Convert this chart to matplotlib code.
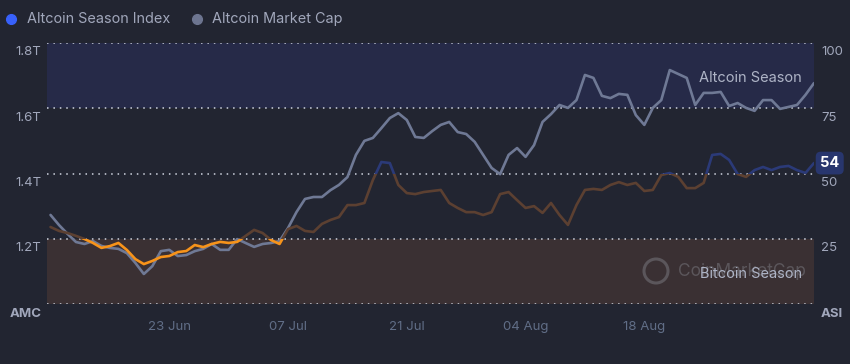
# Altcoin Season Index vs Altcoin Market Cap, dark CoinMarketCap style
import pandas as pd
import matplotlib.pyplot as plt
import matplotlib.dates as mdates
import matplotlib.transforms as mtransforms
from matplotlib.patches import Rectangle, Circle
from matplotlib.lines import Line2D

plt.rcParams['font.family'] = ['Inter', 'DejaVu Sans']

# daily data, 9 Jun -> 7 Sep
dates = pd.date_range('2024-06-09', '2024-09-07', freq='D')

# altcoin market cap, trillions USD
market_cap = [
    1.273, 1.242, 1.215, 1.190, 1.184, 1.193, 1.178, 1.172, 1.169, 1.156,
    1.126, 1.092, 1.116, 1.162, 1.166, 1.147, 1.150, 1.162, 1.169, 1.184,
    1.166, 1.166, 1.199, 1.187, 1.175, 1.184, 1.187, 1.193, 1.233, 1.282,
    1.322, 1.328, 1.328, 1.349, 1.365, 1.389, 1.457, 1.500, 1.509, 1.539,
    1.570, 1.585, 1.564, 1.512, 1.509, 1.530, 1.549, 1.558, 1.527, 1.521,
    1.497, 1.457, 1.417, 1.398, 1.457, 1.478, 1.451, 1.487, 1.558, 1.582,
    1.610, 1.601, 1.625, 1.702, 1.693, 1.638, 1.631, 1.644, 1.641, 1.579,
    1.549, 1.601, 1.625, 1.717, 1.705, 1.693, 1.610, 1.647, 1.647, 1.650,
    1.607, 1.616, 1.601, 1.592, 1.625, 1.625, 1.598, 1.604, 1.610, 1.641,
    1.677,
]

# altcoin season index, 0-100
season_index = [
    29.5, 28.0, 27.2, 26.1, 24.9, 23.4, 21.5, 22.2, 23.4, 20.7,
    17.2, 15.3, 16.5, 18.0, 18.4, 19.9, 20.3, 22.6, 21.8, 23.0,
    23.8, 23.4, 23.8, 26.1, 28.4, 27.2, 24.5, 23.0, 28.7, 29.9,
    28.0, 27.6, 30.7, 32.2, 33.3, 37.9, 37.9, 38.7, 47.5, 54.4,
    54.0, 45.6, 42.5, 42.1, 42.9, 43.3, 43.7, 38.7, 36.8, 35.2,
    35.2, 34.1, 35.2, 42.1, 42.9, 39.8, 36.8, 37.5, 34.9, 38.7,
    34.1, 30.3, 37.9, 43.7, 44.1, 43.7, 45.6, 46.7, 45.6, 46.4,
    43.3, 43.7, 49.4, 50.2, 48.7, 44.4, 44.4, 46.4, 57.1, 57.5,
    55.2, 49.8, 48.7, 51.3, 52.5, 51.3, 52.5, 52.9, 51.3, 50.2,
    54.0,
]

cap_ticks = [1.0, 1.2, 1.4, 1.6, 1.8]
cap_labels = ['AMC', '1.2T', '1.4T', '1.6T', '1.8T']
idx_ticks = [0, 25, 50, 75, 100]
idx_labels = ['ASI', '25', '50', '75', '100']
date_ticks = ['2024-06-23', '2024-07-07', '2024-07-21', '2024-08-04', '2024-08-18']

bg = '#222531'
label_col = '#a1a7bb'
date_col = '#616e87'

fig = plt.figure(figsize=(8.5, 3.64), dpi=100, facecolor=bg)
ax = fig.add_axes([0.0553, 0.1648, 0.9023, 0.7171])
ax.set_facecolor(bg)
ax2 = ax.twinx()

# season bands
ax.axhspan(1.6, 1.8, color='#262a48', zorder=0, lw=0)
ax.axhspan(1.0, 1.2, color='#3a3033', zorder=0, lw=0)

btf = mtransforms.blended_transform_factory(ax2.transAxes, ax2.transData)

# watermark (sits under the "Bitcoin Season" label like the original)
ax2.text(0.823, 12.5, 'CoinMarketCap', transform=btf,
         fontsize=12.5, color='#5b565b', va='center', ha='left', zorder=1)
logo = Circle((656, 364 - 271), 12, transform=None, fill=False, ec='#5b565b', lw=2.2, zorder=1)
fig.add_artist(logo)

for y in cap_ticks:
    ax.axhline(y, color='#d0d5e0', lw=1.1, ls=(0, (1, 3.2)), zorder=1)

ax.plot(dates, market_cap, color='#6f7995', lw=1.9, zorder=3,
        solid_capstyle='round', solid_joinstyle='round')

# index line, coloured by zone using clip rectangles
zones = [(-10, 35, '#f7931a'), (25, 25, '#5c4031'), (50, 60, '#2b3a78')]
for y0, h, col in zones:
    ln, = ax2.plot(dates, season_index, color=col, lw=1.9, zorder=4,
                   solid_capstyle='round', solid_joinstyle='round')
    ln.set_clip_path(Rectangle((0, y0), 1, h, transform=btf))

ax.set_xlim(pd.Timestamp('2024-06-08 14:00'), dates[-1])
ax.set_ylim(1.0, 1.8)
ax2.set_ylim(0, 100)

ax.set_xticks(pd.to_datetime(date_ticks))
ax.xaxis.set_major_formatter(mdates.DateFormatter('%d %b'))
ax.tick_params(axis='x', length=0, pad=12, labelsize=9.5, labelcolor=date_col)

ax.set_yticks(cap_ticks)
ax.set_yticklabels(cap_labels)
ax.tick_params(axis='y', length=0, pad=4, labelsize=9.5, labelcolor=label_col)
ax2.set_yticks(idx_ticks)
ax2.set_yticklabels(idx_labels)
ax2.tick_params(axis='y', length=0, pad=5, labelsize=9.5, labelcolor=label_col)

shift = mtransforms.ScaledTranslation(0, -8 / 100, fig.dpi_scale_trans)
for lab in ax.get_yticklabels() + ax2.get_yticklabels():
    lab.set_transform(lab.get_transform() + shift)
ax.get_yticklabels()[0].set_fontweight('bold')
ax2.get_yticklabels()[0].set_fontweight('bold')

for a in (ax, ax2):
    for s in a.spines.values():
        s.set_visible(False)

# zone labels
ax2.text(0.984, 86.6, 'Altcoin Season', transform=btf, ha='right', va='center',
         fontsize=10.5, color='#aeb4c6', zorder=5)
ax2.text(0.985, 11.5, 'Bitcoin Season', transform=btf, ha='right', va='center',
         fontsize=10.5, color='#aeb4c6', zorder=5)

# current value badge
ax2.text(1.008, season_index[-1], '54', transform=btf, ha='left', va='center',
         fontsize=10.5, fontweight='bold', color='white', zorder=6,
         bbox=dict(boxstyle='round,pad=0.3,rounding_size=0.35', fc='#28366e', ec='none'))

# legend
fig.add_artist(Line2D([11 / 850], [1 - 19 / 364], marker='o', ms=7, color='#3861fb',
                      transform=fig.transFigure))
fig.text(27 / 850, 1 - 19 / 364, 'Altcoin Season Index', color=label_col, fontsize=10.4,
         va='center', ha='left')
fig.add_artist(Line2D([197 / 850], [1 - 19 / 364], marker='o', ms=7, color='#6d7590',
                      transform=fig.transFigure))
fig.text(212 / 850, 1 - 19 / 364, 'Altcoin Market Cap', color=label_col, fontsize=10.4,
         va='center', ha='left')

fig.savefig('out.png', dpi=100, facecolor=bg)
